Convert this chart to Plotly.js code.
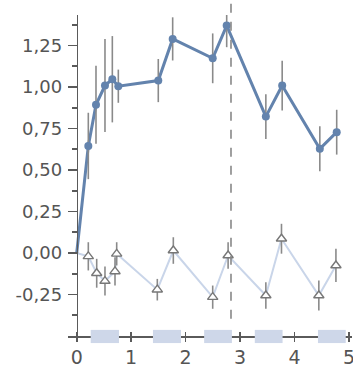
<!DOCTYPE html>
<html>
<head>
<meta charset="utf-8">
<script src="https://cdn.plot.ly/plotly-3.0.1.min.js"></script>
<style>html,body{margin:0;padding:0;background:#fff;}#chart{width:353px;height:369px;}</style>
</head>
<body>
<div id="chart"></div>
<script>
// Blue series (filled circles)
const blueX = [0, 0.213, 0.354, 0.519, 0.654, 0.764, 1.498, 1.762, 2.497, 2.754, 3.473, 3.773, 4.464, 4.774];
const blueY = [0, 0.645, 0.893, 1.009, 1.047, 1.005, 1.039, 1.290, 1.173, 1.370, 0.822, 1.009, 0.628, 0.728];
const blueErr = [0, 0.20, 0.235, 0.28, 0.26, 0.10, 0.13, 0.13, 0.15, 0.13, 0.135, 0.15, 0.135, 0.135];
// Light series (open triangles)
const triX = [0, 0.213, 0.367, 0.519, 0.703, 0.734, 1.480, 1.774, 2.497, 2.780, 3.473, 3.760, 4.446, 4.760];
const triY = [0, -0.020, -0.122, -0.169, -0.111, -0.005, -0.221, 0.015, -0.266, -0.015, -0.256, 0.086, -0.256, -0.075];
const triErr = [0, 0.085, 0.087, 0.087, 0.085, 0.07, 0.065, 0.08, 0.07, 0.08, 0.08, 0.09, 0.09, 0.10];
// Shaded periods on the x axis
const periodStart = [0.257, 1.40, 2.34, 3.27, 4.43];
const periodEnd = [0.776, 1.915, 2.85, 3.78, 4.94];
// Vertical dashed marker
const markerX = 2.833;
// Axis ticks
const xTickVals = [0, 1, 2, 3, 4, 5];
const xTickText = ['0', '1', '2', '3', '4', '5'];
const yTickVals = [-0.25, 0, 0.25, 0.5, 0.75, 1.0, 1.25];
const yTickText = ['-0,25', '0,00', '0,25', '0,50', '0,75', '1,00', '1,25'];

const xRange = [-0.16, 5.055];
const yRange = [-0.5, 1.434];

const blue = 'rgb(99,131,173)';
const light = 'rgb(201,213,233)';
const grey = '#8a8a8a';
const axisCol = '#5a5a5a';

const traces = [
  { x: triX, y: triY, mode: 'lines', line: {color: light, width: 2}, hoverinfo: 'skip', showlegend: false },
  { x: triX.slice(1), y: triY.slice(1), mode: 'markers',
    error_y: {type: 'data', array: triErr.slice(1), color: grey, thickness: 1.6, width: 0},
    marker: {symbol: 'triangle-up', size: 9, color: 'white', line: {color: '#777', width: 1.4}},
    showlegend: false },
  { x: blueX, y: blueY, mode: 'lines', line: {color: blue, width: 3}, showlegend: false },
  { x: blueX.slice(1), y: blueY.slice(1), mode: 'markers',
    error_y: {type: 'data', array: blueErr.slice(1), color: grey, thickness: 1.6, width: 0},
    marker: {symbol: 'circle', size: 8, color: blue},
    showlegend: false }
];

const shapes = periodStart.map((s, i) => ({
  type: 'rect', xref: 'x', yref: 'paper', x0: s, x1: periodEnd[i], y0: -0.022, y1: 0.019,
  fillcolor: 'rgb(206,215,233)', line: {width: 0}, layer: 'above'
}));
shapes.push({ type: 'line', xref: 'x', yref: 'paper', x0: markerX, x1: markerX, y0: 0.054, y1: 1.05,
  line: {color: '#888', width: 1.6, dash: 'dash'}, layer: 'above' });

const layout = {
  width: 353, height: 369,
  margin: {l: 68, r: 1, t: 15, b: 33, pad: 0},
  paper_bgcolor: 'white', plot_bgcolor: 'white',
  separators: ',.',
  font: {family: 'DejaVu Sans', color: '#555'},
  xaxis: {
    range: xRange, showgrid: false, zeroline: false,
    showline: true, linecolor: axisCol, linewidth: 1.6,
    tickmode: 'array', tickvals: xTickVals, ticktext: xTickText,
    ticks: 'outside', ticklen: 4, tickwidth: 1.6, tickcolor: axisCol,
    ticklabeloverflow: 'allow', ticklabelstandoff: 0,
    tickfont: {size: 19, color: '#555', family: 'DejaVu Sans'}
  },
  xaxis2: {
    range: xRange, overlaying: 'x', anchor: 'y', side: 'bottom',
    showgrid: false, zeroline: false, showline: false, showticklabels: false,
    tickmode: 'array', tickvals: xTickVals,
    ticks: 'inside', ticklen: 4, tickwidth: 1.6, tickcolor: axisCol
  },
  yaxis: {
    range: yRange, showgrid: false, zeroline: false,
    anchor: 'free', position: (0 - xRange[0]) / (xRange[1] - xRange[0]),
    showline: true, linecolor: axisCol, linewidth: 1.6,
    tickmode: 'array', tickvals: yTickVals, ticktext: yTickText,
    ticks: 'outside', ticklen: 9, tickwidth: 1.6, tickcolor: axisCol,
    ticklabelstandoff: 2,
    tickfont: {size: 18, color: '#555', family: 'DejaVu Sans'},
    minor: {dtick: 0.25, tick0: 0.125, ticks: 'outside', ticklen: 5, tickwidth: 1.6, tickcolor: axisCol}
  },
  shapes: shapes
};

// invisible anchor trace so the overlay axis (crossing ticks) renders
traces.push({x: [xRange[0]], y: [yRange[0]], xaxis: 'x2', mode: 'markers', marker: {opacity: 0}, hoverinfo: 'skip', showlegend: false});

Plotly.newPlot('chart', traces, layout, {staticPlot: true, displayModeBar: false});
</script>
</body>
</html>
